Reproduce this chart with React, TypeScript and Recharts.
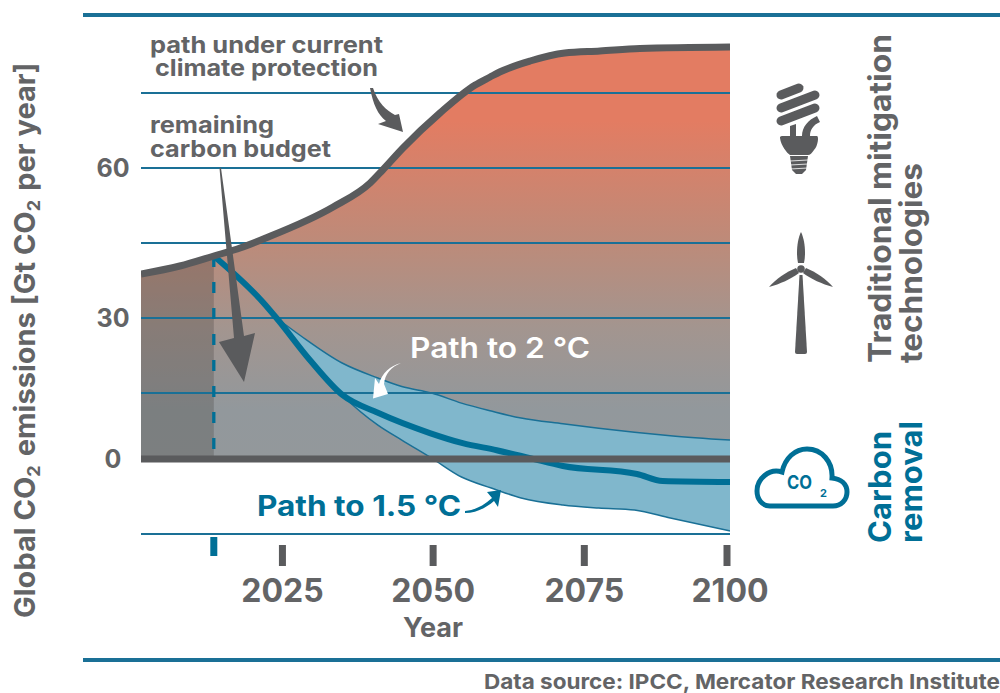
import React from "react";
import { ComposedChart, Area, Line, XAxis, YAxis, ReferenceLine } from "recharts";

// ---- data (Gt CO2 per year) ----
const currentYears = [2001.3, 2007.8, 2013.5, 2017.9, 2022, 2033.5, 2039.7, 2041.8, 2045.2, 2051.4, 2057.3, 2059.8, 2061.4, 2066.5, 2072.3, 2078.2, 2084.9, 2100];
const currentValues = [38.8, 40.4, 42.4, 44, 45.9, 52.2, 57, 59.6, 64, 71, 76.6, 78.2, 79.2, 81.4, 83, 83.4, 83.9, 84.2];
const historyYears = [2001.3, 2007.8, 2013.5];
const historyValues = [38.8, 40.4, 42.4];
const pathYears = [2013.5, 2021.7, 2024, 2029.6, 2035.1, 2041, 2049.7, 2055.2, 2060.9, 2066.5, 2072, 2084.4, 2088.7, 2100];
const pathValues = [42.4, 33.2, 30, 21.6, 14.5, 10.5, 5.9, 3.6, 2.0, 0.2, -1.4, -3, -4.4, -4.6];
const bandYears = [2024, 2028, 2035, 2041, 2045, 2050, 2055, 2060, 2065, 2072, 2078, 2084, 2090, 2100];
const bandHigh = [30, 26.5, 21, 18, 16.3, 15, 12.7, 10.9, 9.3, 8, 7, 6.1, 5.3, 4.3];
const bandLow = [30, 23.8, 14.5, 7.7, 4.3, 0.2, -3.6, -5.8, -7.8, -9.2, -9.8, -10.2, -11.8, -14.4];
const gridValues = [75, 60, 45, 30, 15, -15];
const yTicks = [60, 30, 0];
const xTicks = [2013.5, 2025, 2050, 2075, 2100];
const budgetYear = 2013.5;
const budgetStart = 42.4;

const toRows = (years: number[], values: number[]) => years.map((year, i) => ({ year, value: values[i] }));
const currentRows = toRows(currentYears, currentValues);
const historyRows = toRows(historyYears, historyValues);
const pathRows = toRows(pathYears, pathValues);
const bandRows = bandYears.map((year, i) => ({ year, range: [bandLow[i], bandHigh[i]] }));

// the reference's y axis is slightly uneven around zero: piecewise-linear scale
const KNOT_V = [-15, 0, 15, 85.6];
const KNOT_F = [0, 75 / 494, 141 / 494, 1];
function makeScale(dom: number[], rng: number[]): any {
  const f = (v: number) => {
    let i = 0;
    while (i < KNOT_V.length - 2 && v > KNOT_V[i + 1]) i++;
    const t = (v - KNOT_V[i]) / (KNOT_V[i + 1] - KNOT_V[i]);
    const fr = KNOT_F[i] + t * (KNOT_F[i + 1] - KNOT_F[i]);
    return rng[0] + fr * (rng[1] - rng[0]);
  };
  f.domain = (d?: number[]) => (d ? makeScale(d, rng) : dom);
  f.range = (r?: number[]) => (r ? makeScale(dom, r) : rng);
  f.copy = () => makeScale(dom, rng);
  f.ticks = () => yTicks;
  f.bandwidth = () => 0;
  return f;
}
const yScale = makeScale([-15, 85.6], [534, 40]);

const GRAY = "#5A5B5D";
const TEXT = "#636466";
const BLUE = "#006F96";
const RULE = "#1A7096";
const FONT = "Inter, 'Open Sans', sans-serif";

const XTick = (p: any) => {
  const v = p.payload.value;
  const first = v === budgetYear;
  const nudge = v === 2050 ? 1.5 : v === 2075 ? 3.5 : 0;
  const x = Math.min(p.x + nudge, 727);
  return (
    <g>
      <rect x={x - 3.5} y={first ? 537 : 545} width={7} height={first ? 19 : 21} fill={first ? BLUE : GRAY} />
      {!first && (
        <text x={p.x + nudge} y={602} textAnchor="middle" fontFamily={FONT} fontWeight={700} fontSize={32} fill={TEXT}>
          {v}
        </text>
      )}
    </g>
  );
};
const YTick = (p: any) => (
  <text x={113} y={p.y + 9} textAnchor="middle" fontFamily={FONT} fontWeight={700} fontSize={25} fill={TEXT}>
    {p.payload.value}
  </text>
);

const Sub = ({ children, size }: any) => (
  <>
    <tspan dy={5} fontSize={size}>{children}</tspan>
    <tspan dy={-5}>{"\u200A"}</tspan>
  </>
);

export default function App() {
  const t = { fontFamily: FONT, fontWeight: 700 } as const;
  return (
    <div style={{ position: "absolute", left: 0, top: 0, width: 1000, height: 693, background: "#fff", overflow: "hidden" }}>
      <ComposedChart width={1000} height={693} margin={{ top: 40, right: 270, bottom: 0, left: 0 }}>
        <defs>
          <linearGradient id="warm" x1="0" y1="0" x2="0" y2="1">
            <stop offset="0.18" stopColor="#E37C62" />
            <stop offset="0.48" stopColor="#BC8B7A" />
            <stop offset="0.68" stopColor="#A3958F" />
            <stop offset="0.88" stopColor="#92989C" />
            <stop offset="1" stopColor="#93989B" />
          </linearGradient>
        </defs>
        <XAxis
          dataKey="year"
          type="number"
          domain={[2001.3, 2100]}
          ticks={xTicks}
          interval={0}
          height={159}
          tick={<XTick />}
          tickLine={false}
          axisLine={false}
          allowDataOverflow
        />
        <YAxis type="number" scale={yScale} domain={[-15, 85.6]} ticks={yTicks} interval={0} width={141} tick={<YTick />} tickLine={false} axisLine={false} allowDataOverflow />
        <Area data={currentRows} dataKey="value" baseValue={0} type="monotoneX" stroke="none" fill="url(#warm)" fillOpacity={1} isAnimationActive={false} dot={false} activeDot={false} />
        <Area data={historyRows} dataKey="value" baseValue={0} type="monotoneX" stroke="none" fill="#3F3A38" fillOpacity={0.27} isAnimationActive={false} dot={false} activeDot={false} />
        {gridValues.map((v) => (
          <ReferenceLine key={v} y={v} stroke={RULE} strokeWidth={2} />
        ))}
        <Area data={bandRows} dataKey="range" type="monotoneX" stroke={RULE} strokeWidth={1.5} fill="#80B7CC" fillOpacity={1} isAnimationActive={false} dot={false} activeDot={false} />
        <ReferenceLine
          segment={[{ x: budgetYear, y: budgetStart }, { x: budgetYear, y: 0 }]}
          stroke={BLUE}
          strokeWidth={3.3}
          strokeDasharray="11 15"
        />
        <Line data={pathRows} dataKey="value" type="monotoneX" stroke={BLUE} strokeWidth={6} dot={false} activeDot={false} isAnimationActive={false} />
        <ReferenceLine y={0} stroke={GRAY} strokeWidth={7} />
        <Line data={currentRows} dataKey="value" type="monotoneX" stroke={GRAY} strokeWidth={7} dot={false} activeDot={false} isAnimationActive={false} />
      </ComposedChart>

      <svg width={1000} height={693} style={{ position: "absolute", left: 0, top: 0, pointerEvents: "none" }}>
        <rect x={83} y={13} width={917} height={4} fill={RULE} />
        <rect x={83} y={658} width={917} height={4} fill={RULE} />

        <text x={150} y={53} textLength={233} lengthAdjust="spacingAndGlyphs" fontSize={23} fill={TEXT} {...t}>path under current</text>
        <text x={155} y={76} textLength={223} lengthAdjust="spacingAndGlyphs" fontSize={23} fill={TEXT} {...t}>climate protection</text>
        <text x={150} y={133} textLength={124} lengthAdjust="spacingAndGlyphs" fontSize={23} fill={TEXT} {...t}>remaining</text>
        <text x={150} y={157} textLength={181} lengthAdjust="spacingAndGlyphs" fontSize={23} fill={TEXT} {...t}>carbon budget</text>

        <text x={410} y={358} textLength={180} lengthAdjust="spacingAndGlyphs" fontSize={28} fill="#fff" fontFamily={FONT} fontWeight={600}>Path to 2 °C</text>
        <text x={257} y={516} textLength={204} lengthAdjust="spacingAndGlyphs" fontSize={28} fill={BLUE} {...t}>Path to 1.5 °C</text>

        <text x={433} y={637} textAnchor="middle" fontSize={27} fill={TEXT} {...t}>Year</text>
        <text x={484} y={689} textLength={516} lengthAdjust="spacingAndGlyphs" fontSize={20.5} fill={TEXT} {...t}>Data source: IPCC, Mercator Research Institute</text>

        <text transform="translate(34.5 618) rotate(-90)" fontSize={29} fill={TEXT} {...t}>
          Global CO<Sub size={18}>2</Sub> emissions [Gt CO<Sub size={18}>2</Sub> per year]
        </text>

        <text transform="translate(891 363) rotate(-90)" textLength={329} lengthAdjust="spacingAndGlyphs" fontSize={31} fill={TEXT} {...t}>Traditional mitigation</text>
        <text transform="translate(922 363) rotate(-90)" textLength={200} lengthAdjust="spacingAndGlyphs" fontSize={31} fill={TEXT} {...t}>technologies</text>
        <text transform="translate(891 543) rotate(-90)" textLength={112} lengthAdjust="spacingAndGlyphs" fontSize={31} fill={BLUE} {...t}>Carbon</text>
        <text transform="translate(922 543) rotate(-90)" textLength={122} lengthAdjust="spacingAndGlyphs" fontSize={31} fill={BLUE} {...t}>removal</text>

        {/* annotation arrows */}
        <path d="M370 88 L373 88 C378 103 386 110 395 115 L399 114 L403 132 L378 124 L386 121 C378 115 373 104 370 88Z" fill={GRAY} />
        <path d="M219.5 168 L221 168 L244 336 L255 333 L244 382 L219 342 L234 338 Z" fill={GRAY} />
        <path d="M401 363 C391 367 385 374 384 384 L388 394 L373 398.5 L375 378 L379 384 C382 373 390 366 401 363Z" fill="#fff" />
        <path d="M465 511 C476 510 484 505 492 498 L487 492 L501 490 L498 507 L494 501 C486 508 476 513 465 513Z" fill={BLUE} />

        {/* bulb icon */}
        <g stroke={GRAY} strokeWidth={9} strokeLinecap="round" fill="none">
          <line x1={781} y1={95} x2={799} y2={88} />
          <line x1={781} y1={108} x2={815} y2={95} />
          <line x1={781} y1={121} x2={815} y2={108} />
        </g>
        <path d="M790 126 L796 124 L796 136 L802 136 C802 127 808 120 817 116 L820 122 C813 125 810 130 810 136 L817 136 C819 136 818 146 814 150 C812 153 810 155 808 155 L790 155 C787 153 781 146 780 138 C780 136 781 136 786 136 L790 136Z" fill={GRAY} />
        <path d="M790 156 H808 L806 170 L802 174 H796 L792 170Z" fill={GRAY} />
        <g stroke="#fff" strokeWidth={0.8}>
          <line x1={790} y1={161} x2={808} y2={160} />
          <line x1={790} y1={165} x2={808} y2={164} />
          <line x1={790} y1={169} x2={808} y2={168} />
        </g>

        {/* wind turbine icon */}
        <path d="M801 232 C797 240 796 254 798 263 L804 263 C806 254 805 240 801 232Z" fill={GRAY} />
        <path d="M769 287 C776 279 786 272 796 268 L799 273 C791 279 780 284 769 287Z" fill={GRAY} />
        <path d="M833 287 C826 279 816 272 806 268 L803 273 C811 279 822 284 833 287Z" fill={GRAY} />
        <circle cx={801} cy={269} r={3.8} fill={GRAY} />
        <path d="M799.5 275 H802.5 L807 352 Q807 354 805 354 H797 Q795 354 795 352Z" fill={GRAY} />

        {/* cloud icon */}
        <path d="M770 506 C762 506 757 499 757 491 C757 479 769 468 782 472 C785 458 795 449 807 449 C822 449 833 462 832 478 C841 479 847 484 847 492 C847 500 841 506 833 506 Z" fill="none" stroke={BLUE} strokeWidth={5} />
        <text x={787} y={489} textLength={25} lengthAdjust="spacingAndGlyphs" fontSize={19} fill={BLUE} {...t}>CO</text>
        <text x={820} y={497} fontSize={11} fill={BLUE} {...t}>2</text>
      </svg>
    </div>
  );
}
